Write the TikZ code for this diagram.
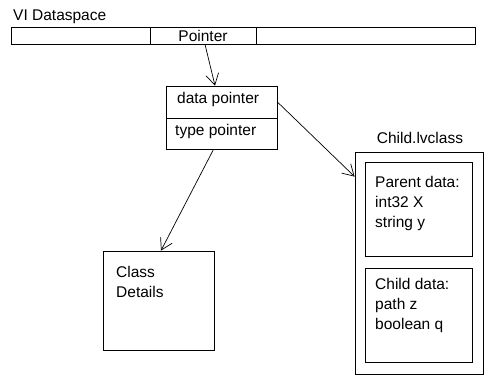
\documentclass[tikz,border=0pt]{standalone}
\usepackage{fontspec}
\setmainfont{Liberation Sans}
\usetikzlibrary{positioning, arrows.meta}

\begin{document}
\begin{tikzpicture}[
    x=1pt, y=-1pt,
    box/.style={draw, rectangle, inner sep=0pt, line width=0.8pt},
    txt/.style={inner sep=0pt, align=left, font=\fontsize{15.5}{20}\selectfont},
    arr/.style={-{Straight Barb[length=11pt, width=13pt]}, line width=0.7pt}
]
  \useasboundingbox (0,0) rectangle (492,384);

  % --- DATASPACE BAR ---
  \node[txt, anchor=north west] (vi) at (13,10) {VI Dataspace};
  \node[box, minimum width=139pt, minimum height=17pt] (seg1) at (80.5,35.5) {};
  \node[box, txt, minimum width=106pt, minimum height=17pt] (ptr) at (203,35.5) {Pointer};
  \node[box, minimum width=219pt, minimum height=17pt] (seg3) at (365.5,35.5) {};

  % --- POINTER PAIR ---
  \node[box, minimum width=111pt, minimum height=32pt] (dptr) at (221.5,102) {};
  \node[box, minimum width=111pt, minimum height=31pt] (tptr) at (221.5,133.5) {};
  \node[txt, anchor=base west] (dtxt) at (177,103) {data pointer};
  \node[txt, anchor=base west] (ttxt) at (175,135) {type pointer};

  % --- CHILD CLASS ---
  \node[txt, anchor=base] (cname) at (420,143) {Child.lvclass};
  \node[box, minimum width=128pt, minimum height=222pt] (child) at (419,263) {};
  \node[box, minimum width=107pt, minimum height=94pt] (parent) at (418.5,209) {};
  \node[txt, anchor=north west] (ptxt) at (375,176) {Parent data:\\int32 X\\string y};
  \node[box, minimum width=107pt, minimum height=94pt] (cdata) at (418.5,315) {};
  \node[txt, anchor=north west] (ctxt) at (375,278) {Child data:\\path z\\boolean q};

  % --- CLASS DETAILS ---
  \node[box, minimum width=111pt, minimum height=99pt] (cls) at (158.5,300.5) {};
  \node[txt, anchor=north west] (clstxt) at (116,266) {Class\\Details};

  % --- ARROWS ---
  \draw[arr] ([xshift=2pt]ptr.south) -- ([xshift=-6.5pt]dptr.north);
  \draw[arr] (dptr.east) -- ([yshift=-25pt]child.north west);
  \draw[arr] ([xshift=-8pt]tptr.south) -- ([xshift=2.5pt]cls.north);
\end{tikzpicture}
\end{document}
